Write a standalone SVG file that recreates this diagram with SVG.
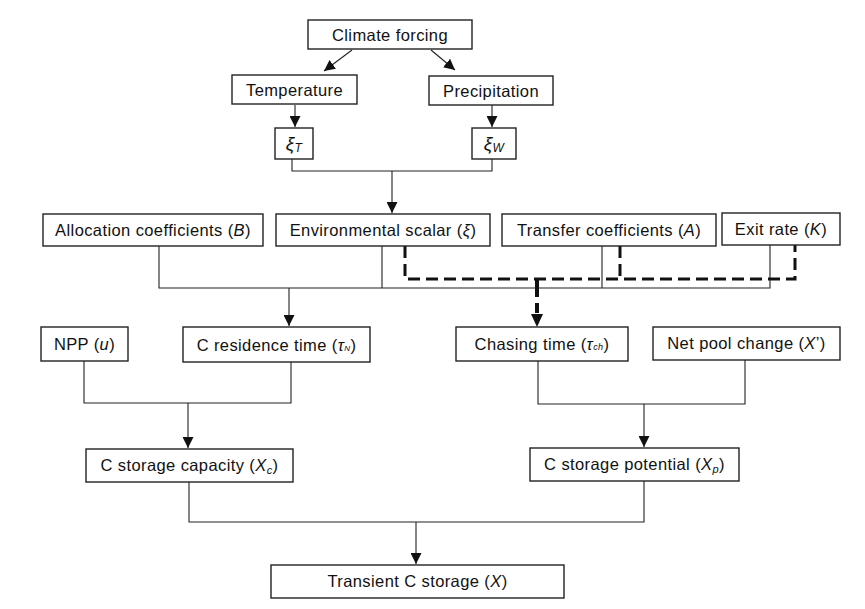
<svg xmlns="http://www.w3.org/2000/svg" width="865" height="609" viewBox="0 0 865 609">
<style>
.box{fill:#fff;stroke:#222;stroke-width:1.4}
.t{font-family:"Liberation Sans",Arial,sans-serif;font-size:16.5px;letter-spacing:0.4px;fill:#111;text-anchor:middle}
.i{font-style:italic}
.c{fill:none;stroke:#222;stroke-width:1.1}
.d{fill:none;stroke:#111;stroke-width:3;stroke-dasharray:12,6}
.dv{fill:none;stroke:#111;stroke-width:4}
</style>
<defs>
<marker id="ah" markerUnits="userSpaceOnUse" markerWidth="11" markerHeight="11" refX="11" refY="5.5" orient="auto"><path d="M0,0 L11,5.5 L0,11 z" fill="#111"/></marker>
</defs>
<rect width="865" height="609" fill="#fff"/>
<g id="connectors">
<line class="c" x1="352" y1="50" x2="324" y2="71" marker-end="url(#ah)"/>
<line class="c" x1="431" y1="50" x2="455" y2="70" marker-end="url(#ah)"/>
<line class="c" x1="295" y1="105" x2="295" y2="127" marker-end="url(#ah)"/>
<line class="c" x1="492" y1="105" x2="492" y2="127" marker-end="url(#ah)"/>
<path class="c" d="M292,159 V171 H492 V159"/>
<line class="c" x1="392" y1="171" x2="392" y2="213" marker-end="url(#ah)"/>
<path class="c" d="M159,246 V288 H770 V245"/>
<path class="c" d="M382,246 V288 M602,246 V288"/>
<line class="c" x1="289" y1="288" x2="289" y2="326" marker-end="url(#ah)"/>
<path class="d" d="M405,246 V279 H795 V245"/>
<path class="d" d="M620,246 V279"/>
<path class="dv" d="M537,279 V297 M537,303 V313"/>
<polygon points="531,314 543,314 537,327" fill="#111"/>
<path class="c" d="M84,361 V403 H291 V362"/>
<line class="c" x1="188" y1="403" x2="188" y2="448" marker-end="url(#ah)"/>
<path class="c" d="M538,361 V404 H745 V360"/>
<line class="c" x1="644" y1="404" x2="644" y2="447" marker-end="url(#ah)"/>
<path class="c" d="M189,482 V522 H644 V481"/>
<line class="c" x1="416" y1="522" x2="416" y2="564" marker-end="url(#ah)"/>
</g>
<g id="climate"><rect class="box" x="308" y="20" width="164" height="29"/><text class="t" x="390" y="41">Climate forcing</text></g>
<g id="temperature"><rect class="box" x="232" y="75" width="125" height="29"/><text class="t" x="294.5" y="96">Temperature</text></g>
<g id="precipitation"><rect class="box" x="429" y="76" width="124" height="29"/><text class="t" x="491" y="97">Precipitation</text></g>
<g id="xiT"><rect class="box" x="275" y="128" width="38" height="31"/><text class="t i" x="294" y="150" style="font-size:19px">ξ<tspan style="font-size:12px" dy="2">T</tspan></text></g>
<g id="xiW"><rect class="box" x="472" y="128" width="44" height="31"/><text class="t i" x="494" y="150" style="font-size:19px">ξ<tspan style="font-size:12px" dy="2">W</tspan></text></g>
<g id="allocation"><rect class="box" x="43" y="214" width="220" height="32"/><text class="t" x="153" y="236">Allocation coefficients (<tspan class="i">B</tspan>)</text></g>
<g id="environmental"><rect class="box" x="276" y="214" width="214" height="32"/><text class="t" x="383" y="236">Environmental scalar (<tspan class="i">ξ</tspan>)</text></g>
<g id="transfer"><rect class="box" x="502" y="214" width="214" height="32"/><text class="t" x="609" y="236">Transfer coefficients (<tspan class="i">A</tspan>)</text></g>
<g id="exit"><rect class="box" x="722" y="213" width="118" height="32"/><text class="t" x="781" y="235">Exit rate (<tspan class="i">K</tspan>)</text></g>
<g id="npp"><rect class="box" x="41" y="327" width="87" height="34"/><text class="t" x="84.5" y="350">NPP (<tspan class="i">u</tspan>)</text></g>
<g id="residence"><rect class="box" x="183" y="327" width="187" height="35"/><text class="t" x="276.5" y="351">C residence time (<tspan class="i">τ</tspan><tspan class="i" style="font-size:8px">N</tspan>)</text></g>
<g id="chasing"><rect class="box" x="456" y="327" width="172" height="34"/><text class="t" x="542" y="350">Chasing time (<tspan class="i">τ</tspan><tspan class="i" style="font-size:9px">ch</tspan>)</text></g>
<g id="netpool"><rect class="box" x="653" y="327" width="187" height="33"/><text class="t" x="746.5" y="349">Net pool change (<tspan class="i">X</tspan>’)</text></g>
<g id="capacity"><rect class="box" x="86" y="449" width="207" height="33"/><text class="t" x="189.5" y="471">C storage capacity (<tspan class="i">X</tspan><tspan class="i" style="font-size:11px" dy="3">c</tspan><tspan dy="-3">)</tspan></text></g>
<g id="potential"><rect class="box" x="530" y="448" width="209" height="33"/><text class="t" x="634.5" y="470">C storage potential (<tspan class="i">X</tspan><tspan class="i" style="font-size:11px" dy="3">p</tspan><tspan dy="-3">)</tspan></text></g>
<g id="transient"><rect class="box" x="271" y="565" width="293" height="33"/><text class="t" x="417.5" y="587">Transient C storage (<tspan class="i">X</tspan>)</text></g>
</svg>
